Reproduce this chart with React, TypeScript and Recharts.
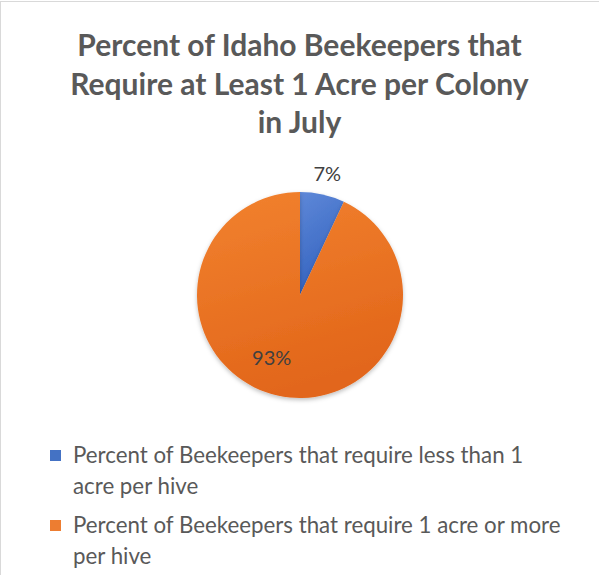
// Idaho beekeepers acreage pie: two-slice pie, Excel look, with a custom wrapped legend.
import { Cell, Legend, Pie, PieChart } from "recharts";

const CATEGORIES = [
  "Percent of Beekeepers that require less than 1 acre per hive",
  "Percent of Beekeepers that require 1 acre or more per hive",
];
const VALUES = [7, 93];
// where each legend label breaks onto a second line (word index)
const LEGEND_BREAKS = [8, 9];
const TITLE_LINES = ["Percent of Idaho Beekeepers that", "Require at Least 1 Acre per Colony", "in July"];

const COLORS = ["#4472C4", "#ED7D31"];
const GRADS = [
  ["#5E88D8", "#3362BF"],
  ["#F2822F", "#E2661A"],
];
const FONT = "Lato, 'Open Sans', sans-serif";
const TEXT = "#595959";
const RADIAN = Math.PI / 180;

const data = CATEGORIES.map((name, i) => ({ name, value: VALUES[i] }));

function renderLabel(props: any) {
  const { cx, cy, midAngle, outerRadius, percent, index } = props;
  const outside = percent < 0.1;
  const r = outside ? outerRadius + 22 : outerRadius * 0.66;
  const a = outside ? midAngle : midAngle - 12;
  const x = cx + r * Math.cos(-a * RADIAN);
  const y = cy + r * Math.sin(-a * RADIAN);
  return (
    <text key={index} x={x} y={y} fill="#404040" fontSize={20} fontFamily={FONT} textAnchor="middle" dominantBaseline="central">
      {`${Math.round(percent * 100)}%`}
    </text>
  );
}

function LegendBox({ payload }: any) {
  return (
    <div style={{ fontFamily: FONT, fontSize: 22.3, color: TEXT, lineHeight: "31px" }}>
      {(payload ?? []).map((p: any, i: number) => {
        const words = CATEGORIES[i].split(" ");
        const br = LEGEND_BREAKS[i];
        return (
          <div key={p.value} style={{ display: "flex", alignItems: "flex-start", marginBottom: 8 }}>
            <span style={{ width: 11, height: 11, background: COLORS[i], marginTop: 11, marginRight: 12, flex: "none" }} />
            <div style={{ whiteSpace: "nowrap" }}>
              <div>{words.slice(0, br).join(" ")}</div>
              <div>{words.slice(br).join(" ")}</div>
            </div>
          </div>
        );
      })}
    </div>
  );
}

export default function App() {
  return (
    <div style={{ position: "absolute", left: 0, top: 0, width: 599, height: 575, background: "#fff", overflow: "hidden" }}>
      <div style={{ position: "absolute", left: 0, top: 1, width: 640, height: 640, border: "1px solid #D9D9D9", boxSizing: "border-box" }} />
      <div
        style={{
          position: "absolute",
          left: 0,
          top: 25,
          width: 599,
          textAlign: "center",
          fontFamily: FONT,
          fontWeight: 700,
          fontSize: 30,
          lineHeight: "38.5px",
          color: TEXT,
        }}
      >
        {TITLE_LINES.map((t) => (
          <div key={t}>{t}</div>
        ))}
      </div>
      <PieChart width={599} height={575} margin={{ top: 0, right: 0, bottom: 0, left: 0 }} style={{ position: "absolute", left: 0, top: 0 }}>
        <defs>
          {GRADS.map((g, i) => (
            <linearGradient key={i} id={`g${i}`} x1="0" y1="0" x2="0.3" y2="1">
              <stop offset="0%" stopColor={g[0]} />
              <stop offset="100%" stopColor={g[1]} />
            </linearGradient>
          ))}
          <filter id="sh" x="-20%" y="-20%" width="140%" height="140%">
            <feDropShadow dx="0" dy="2" stdDeviation="2" floodColor="#000" floodOpacity="0.25" />
          </filter>
        </defs>
        <Pie
          data={data}
          dataKey="value"
          nameKey="name"
          cx={300}
          cy={295}
          outerRadius={103}
          startAngle={90}
          endAngle={-270}
          stroke="none"
          labelLine={false}
          label={renderLabel}
          isAnimationActive={false}
          style={{ filter: "url(#sh)" }}
        >
          {data.map((d, i) => (
            <Cell key={d.name} fill={`url(#g${i})`} />
          ))}
        </Pie>
        <Legend
          content={<LegendBox />}
          layout="vertical"
          wrapperStyle={{ position: "absolute", left: 50, top: 439, width: 545 }}
        />
      </PieChart>
    </div>
  );
}
